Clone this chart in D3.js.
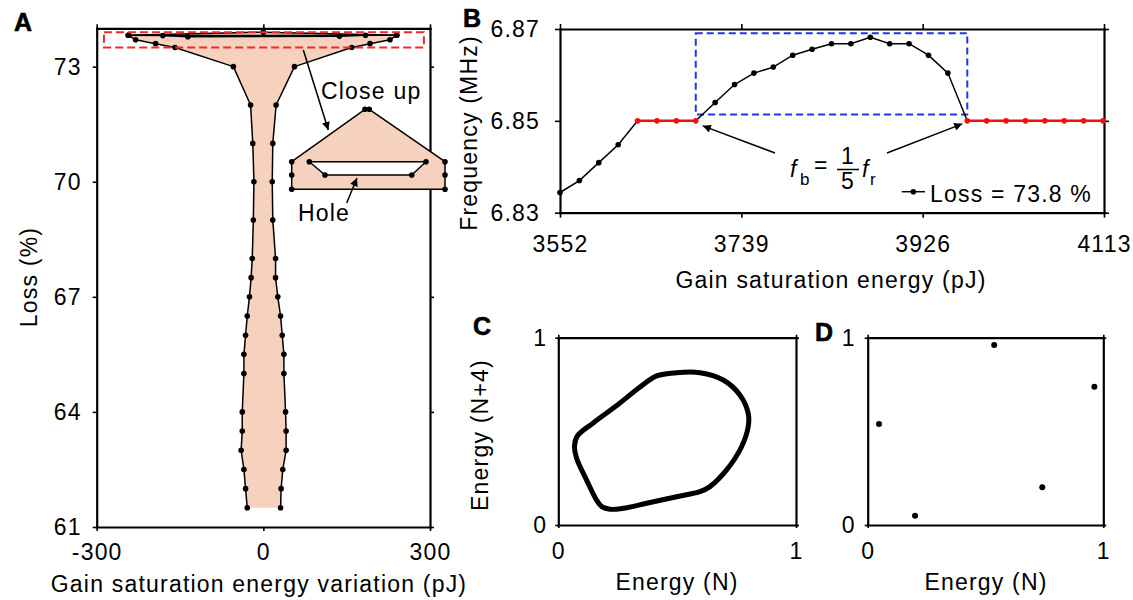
<!DOCTYPE html>
<html>
<head>
<meta charset="utf-8">
<script src="https://cdn.jsdelivr.net/npm/d3@7"></script>
<style>body{margin:0;background:#fff}</style>
</head>
<body>
<div id="fig"></div>
<script>
// ---------- data ----------
// A: loss range (%) vs gain saturation energy variation (pJ), left / right edge
const lossA     = [61.5, 62, 62.5, 63, 63.5, 64, 65, 65.5, 66, 66.5, 67, 67.5, 68, 69, 70, 71, 72, 73, 73.5, 73.6, 73.7, 73.82];
const varLeftA  = [-29, -32, -35, -40, -38, -38, -35, -35, -32, -29, -25, -22, -20, -18, -17, -19, -23, -54, -159, -194, -230, -243];
const varRightA = [31, 32, 35, 41, 41, 40, 37, 37, 34, 31, 26, 22, 22, 17, 16, 17, 23, 56, 159, 192, 228, 240];
// top edge of the shape and the small hole just under it
const topVarA   = [-243, 0, 240];
const topLossA  = [73.82, 73.9, 73.82];
const holeVarA  = [-243, -181, -136, 137, 184, 240];
const holeLossA = [73.82, 73.81, 73.78, 73.79, 73.82, 73.82];
// close up inset (schematic, normalised units)
const insetOuterU = [0, 0, 0, 0.478, 0.506, 1, 1, 1];
const insetOuterV = [0, 0.179, 0.345, 1, 1, 0.345, 0.179, 0];
const insetHoleU  = [0.115, 0.876, 0.783, 0.217];
const insetHoleV  = [0.345, 0.345, 0.179, 0.179];
const xTicksA = [-300, 0, 300];
const yTicksA = [61, 64, 67, 70, 73];

// B: frequency vs gain saturation energy, loss = 73.8 %
const energyB = [3552, 3572, 3592, 3612, 3632, 3652, 3672, 3692, 3712, 3732, 3752, 3772, 3792, 3812, 3832,
                 3852, 3872, 3892, 3912, 3932, 3952, 3972, 3992, 4012, 4032, 4052, 4072, 4092, 4112];
const freqB   = [6.8344, 6.8370, 6.8409, 6.8448, 6.85, 6.85, 6.85, 6.85, 6.8540, 6.8579, 6.8604, 6.8617, 6.8643, 6.8656, 6.8668,
                 6.8668, 6.8682, 6.8668, 6.8668, 6.8643, 6.8604, 6.85, 6.85, 6.85, 6.85, 6.85, 6.85, 6.85, 6.85];
const lockedB = [0, 0, 0, 0, 1, 1, 1, 1, 0, 0, 0, 0, 0, 0, 0,
                 0, 0, 0, 0, 0, 0, 1, 1, 1, 1, 1, 1, 1, 1];
const boxEnergyB = [3692, 3972];
const boxFreqB   = [6.8514, 6.8691];
const xTicksB = [3552, 3739, 3926, 4113];
const yTicksB = [6.83, 6.85, 6.87];

// C: return map, quasi-periodic loop
const loopX = [0.080, 0.147, 0.246, 0.344, 0.414, 0.498, 0.596, 0.694, 0.764, 0.799, 0.799, 0.771, 0.708, 0.638,
               0.596, 0.498, 0.372, 0.273, 0.218, 0.183, 0.161, 0.119, 0.077, 0.068];
const loopY = [0.475, 0.545, 0.638, 0.737, 0.796, 0.813, 0.813, 0.774, 0.694, 0.596, 0.525, 0.418, 0.294, 0.205,
               0.178, 0.151, 0.116, 0.089, 0.084, 0.098, 0.133, 0.240, 0.356, 0.420];
// D: return map, period-5 points
const dotsX = [0.048, 0.201, 0.537, 0.741, 0.962];
const dotsY = [0.539, 0.050, 0.961, 0.201, 0.738];
const unitTicks = [0, 1];

// ---------- setup ----------
const width = 1133, height = 600;
const FONT = "'Liberation Sans', Arial, Helvetica, sans-serif";
const peach = "#f6d1bd";
const plain = d => String(d);

const svg = d3.select("#fig").append("svg")
  .attr("width", width).attr("height", height)
  .style("font-family", FONT)
  .style("letter-spacing", "1.2px");

svg.append("rect").attr("width", width).attr("height", height).attr("fill", "#fff");

svg.append("defs").append("marker")
  .attr("id", "arr").attr("viewBox", "0 0 10 10")
  .attr("refX", 10).attr("refY", 5)
  .attr("markerWidth", 13).attr("markerHeight", 8)
  .attr("markerUnits", "userSpaceOnUse").attr("orient", "auto")
  .append("path").attr("d", "M0,0 L10,5 L0,10 z").attr("fill", "#000");

function boxAxes(x, y, xt, yt, o) {
  const [x0, x1] = x.range(), [y0, y1] = y.range();
  const parts = [
    svg.append("g").attr("transform", `translate(0,${y0})`)
      .call(d3.axisBottom(x).tickValues(xt).tickSize(o.tick).tickSizeOuter(0).tickPadding(o.padX).tickFormat(plain)),
    svg.append("g").attr("transform", `translate(0,${y1})`)
      .call(d3.axisTop(x).tickValues(xt).tickSize(o.tick).tickSizeOuter(0).tickFormat("")),
    svg.append("g").attr("transform", `translate(${x0},0)`)
      .call(d3.axisLeft(y).tickValues(yt).tickSize(o.tick).tickSizeOuter(0).tickPadding(o.padY).tickFormat(o.fmtY || plain)),
    svg.append("g").attr("transform", `translate(${x1},0)`)
      .call(d3.axisRight(y).tickValues(yt).tickSize(o.tick).tickSizeOuter(0).tickFormat(""))
  ];
  parts.forEach(a => {
    a.attr("font-family", FONT).attr("font-size", 23);
    a.select(".domain").attr("stroke-width", 2.2).attr("stroke-linecap", "square");
    a.selectAll(".tick line").attr("stroke-width", 1.6);
    a.selectAll(".tick text").attr("fill", "#000");
  });
}

function label(txt, x, y, opts = {}) {
  const t = svg.append("text").text(txt)
    .attr("x", x).attr("y", y)
    .attr("text-anchor", opts.anchor || "middle")
    .style("font-size", (opts.size || 23) + "px")
    .attr("fill", "#000");
  if (opts.bold) t.style("font-weight", "bold").style("letter-spacing", "0px")
    .attr("stroke", "#000").attr("stroke-width", 0.6);
  if (opts.italic) t.style("font-style", "italic");
  if (opts.rotate) t.attr("transform", `rotate(-90,${x},${y})`);
  return t;
}

function arrow(x1, y1, x2, y2) {
  svg.append("line").attr("x1", x1).attr("y1", y1).attr("x2", x2).attr("y2", y2)
    .attr("stroke", "#000").attr("stroke-width", 1.5).attr("marker-end", "url(#arr)");
}

// ---------- A ----------
const xA = d3.scaleLinear().domain([-300, 300]).range([96.7, 430]);
const yA = d3.scaleLinear().domain([61, 74]).range([527, 28.3]);
boxAxes(xA, yA, xTicksA, yTicksA, {tick: 4, padX: 13, padY: 11});

const leftPts  = lossA.map((l, i) => [varLeftA[i], l]);
const rightPts = lossA.map((l, i) => [varRightA[i], l]);
const topPts   = topVarA.map((v, i) => [v, topLossA[i]]);
const holePts  = holeVarA.map((v, i) => [v, holeLossA[i]]);
const lineA = d3.line().x(d => xA(d[0])).y(d => yA(d[1]));

const outline = leftPts.concat([topPts[1]], rightPts.slice().reverse());
svg.append("path").attr("d", lineA(outline) + "Z").attr("fill", peach);
svg.append("path").attr("d", lineA(holePts.slice(1, 5)) + "Z").attr("fill", "#fff");

[leftPts, rightPts, topPts, holePts, [holePts[1], holePts[4]]].forEach(pts => {
  svg.append("path").attr("d", lineA(pts)).attr("fill", "none")
    .attr("stroke", "#000").attr("stroke-width", 1.5).attr("stroke-linejoin", "round");
});

svg.append("g").selectAll("circle")
  .data(leftPts.concat(rightPts, topPts, holePts))
  .enter().append("circle")
  .attr("cx", d => xA(d[0])).attr("cy", d => yA(d[1])).attr("r", 2.8).attr("fill", "#000");

// red dashed close-up region
svg.append("rect")
  .attr("x", xA(-287)).attr("y", yA(73.9))
  .attr("width", xA(289) - xA(-287)).attr("height", yA(73.5) - yA(73.9))
  .attr("fill", "none").attr("stroke", "#ee2a2a").attr("stroke-width", 2).attr("stroke-dasharray", "8,4");

// inset
const uI = d3.scaleLinear().domain([0, 1]).range([291.7, 445]);
const vI = d3.scaleLinear().domain([0, 1]).range([189.3, 109.3]);
const lineI = d3.line().x(d => uI(d[0])).y(d => vI(d[1]));
const inOuter = insetOuterU.map((u, i) => [u, insetOuterV[i]]);
const inHole  = insetHoleU.map((u, i) => [u, insetHoleV[i]]);
svg.append("path").attr("d", lineI(inOuter) + "Z").attr("fill", peach)
  .attr("stroke", "#000").attr("stroke-width", 1.5).attr("stroke-linejoin", "round");
svg.append("path").attr("d", lineI(inHole) + "Z").attr("fill", "#fff")
  .attr("stroke", "#000").attr("stroke-width", 1.5).attr("stroke-linejoin", "round");
svg.append("g").selectAll("circle")
  .data(inOuter.concat(inHole))
  .enter().append("circle")
  .attr("cx", d => uI(d[0])).attr("cy", d => vI(d[1])).attr("r", 2.8).attr("fill", "#000");

arrow(303.3, 50, 328.3, 130);
label("Close up", 321, 99, {anchor: "start"});
arrow(346.7, 203, 357, 178);
label("Hole", 298, 221, {anchor: "start"});

label("Loss (%)", 37, 277, {rotate: true});
label("Gain saturation energy variation (pJ)", 259, 592);
label("A", 14, 31, {anchor: "start", bold: true, size: 25});

// ---------- B ----------
const xB = d3.scaleLinear().domain([3552, 4113]).range([560, 1104]);
const yB = d3.scaleLinear().domain([6.83, 6.87]).range([212.7, 29]);
boxAxes(xB, yB, xTicksB, yTicksB, {tick: 5, padX: 18, padY: 15, fmtY: d3.format(".2f")});

const ptsB = energyB.map((e, i) => ({e: e, f: freqB[i], lock: lockedB[i]}));
const lineB = d3.line().x(d => xB(d.e)).y(d => yB(d.f));

svg.append("rect")
  .attr("x", xB(boxEnergyB[0])).attr("y", yB(boxFreqB[1]))
  .attr("width", xB(boxEnergyB[1]) - xB(boxEnergyB[0]))
  .attr("height", yB(boxFreqB[0]) - yB(boxFreqB[1]))
  .attr("fill", "none").attr("stroke", "#2233ee").attr("stroke-width", 2).attr("stroke-dasharray", "7,4");

svg.append("path").datum(ptsB).attr("d", lineB)
  .attr("fill", "none").attr("stroke", "#000").attr("stroke-width", 1.5);
svg.append("path").datum(ptsB).attr("d", lineB.defined(d => d.lock))
  .attr("fill", "none").attr("stroke", "#f01010").attr("stroke-width", 2.5);

svg.append("g").selectAll("circle")
  .data(ptsB).enter().append("circle")
  .attr("cx", d => xB(d.e)).attr("cy", d => yB(d.f)).attr("r", 2.8)
  .attr("fill", d => d.lock ? "#f01010" : "#000");

// f_b = 1/5 f_r annotation
arrow(775, 153, xB(boxEnergyB[0]) + 7, yB(6.85) + 5);
arrow(887, 153, xB(boxEnergyB[1]) - 5, yB(6.85) + 3);
label("f", 790, 177, {anchor: "start", italic: true});
label("b", 800, 185, {anchor: "start", size: 17});
label("=", 814, 173, {anchor: "start"});
label("1", 848, 164);
svg.append("line").attr("x1", 837).attr("x2", 859).attr("y1", 169.5).attr("y2", 169.5)
  .attr("stroke", "#000").attr("stroke-width", 1.5);
label("5", 848, 189);
label("f", 862, 177, {anchor: "start", italic: true});
label("r", 870, 185, {anchor: "start", size: 17});

// legend
svg.append("line").attr("x1", 901.7).attr("x2", 925).attr("y1", 191.7).attr("y2", 191.7)
  .attr("stroke", "#000").attr("stroke-width", 1.5);
svg.append("circle").attr("cx", 913.3).attr("cy", 191.7).attr("r", 2.8).attr("fill", "#000");
label("Loss = 73.8 %", 930, 201.7, {anchor: "start"});

label("Frequency (MHz)", 477, 133, {rotate: true});
label("Gain saturation energy (pJ)", 831, 288);
label("B", 463, 27, {anchor: "start", bold: true, size: 25});

// ---------- C ----------
const xC = d3.scaleLinear().domain([0, 1]).range([558.3, 796]);
const yC = d3.scaleLinear().domain([0, 1]).range([525, 337.7]);
boxAxes(xC, yC, unitTicks, unitTicks, {tick: 3, padX: 15, padY: 8});

const loop = loopX.map((v, i) => [v, loopY[i]]);
svg.append("path")
  .attr("d", d3.line().x(d => xC(d[0])).y(d => yC(d[1])).curve(d3.curveCatmullRomClosed.alpha(0.5))(loop))
  .attr("fill", "none").attr("stroke", "#000").attr("stroke-width", 5).attr("stroke-linejoin", "round");

label("Energy (N+4)", 488, 435, {rotate: true});
label("Energy (N)", 677, 590);
label("C", 473, 335, {anchor: "start", bold: true, size: 25});

// ---------- D ----------
const xD = d3.scaleLinear().domain([0, 1]).range([867.7, 1103.3]);
const yD = d3.scaleLinear().domain([0, 1]).range([525, 337.7]);
boxAxes(xD, yD, unitTicks, unitTicks, {tick: 3, padX: 15, padY: 9});

svg.append("g").selectAll("circle")
  .data(dotsX.map((v, i) => [v, dotsY[i]]))
  .enter().append("circle")
  .attr("cx", d => xD(d[0])).attr("cy", d => yD(d[1])).attr("r", 3).attr("fill", "#000");

label("Energy (N)", 986, 590);
label("D", 815, 341, {anchor: "start", bold: true, size: 25});
</script>
</body>
</html>
